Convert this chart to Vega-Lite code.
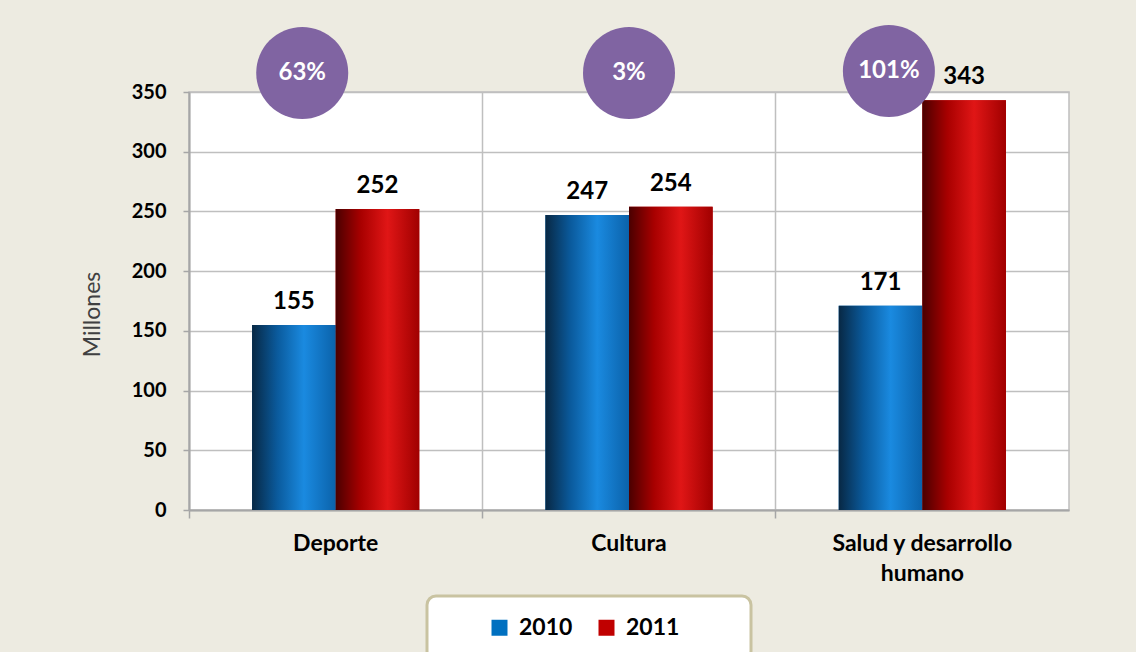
{
  "$schema": "https://vega.github.io/schema/vega-lite/v6.json",
  "autosize": {"type": "none"},
  "padding": {"left": 189, "top": 92, "right": 67, "bottom": 142},
  "width": 880,
  "height": 418,
  "background": "#EDEBE1",
  "config": {
    "font": "Lato",
    "view": {"fill": "white", "stroke": "#bfbfbf", "strokeWidth": 1.5},
    "axisY": {
      "values": [0, 50, 100, 150, 200, 250, 300, 350],
      "grid": true, "gridColor": "#bfbfbf", "gridWidth": 1.5,
      "domainColor": "#a6a6a6", "domainWidth": 2,
      "tickColor": "#a6a6a6", "tickSize": 6, "tickWidth": 1.5,
      "labelFont": "Lato", "labelFontWeight": "bold", "labelFontSize": 20, "labelColor": "black", "labelPadding": 17,
      "titleFont": "Lato", "titleFontSize": 23, "titleFontWeight": "normal", "titleColor": "#404040", "titlePadding": 27, "titleY": 222
    },
    "axisX": {
      "bandPosition": -0.377,
      "grid": true, "gridColor": "#bfbfbf", "gridWidth": 1.5,
      "domainColor": "#a6a6a6", "domainWidth": 2,
      "tickColor": "#a6a6a6", "tickSize": 8, "tickWidth": 1.5,
      "labelFont": "Lato", "labelFontWeight": "bold", "labelFontSize": 23, "labelColor": "black", "labelLimit": 500,
      "labelPadding": 14, "labelAngle": 0, "labelLineHeight": 30, "labelBaseline": "top"
    },
    "legend": {
      "orient": "none", "legendX": 238, "legendY": 504, "direction": "horizontal",
      "fillColor": "white", "strokeColor": "#C9C3A1", "strokeWidth": 3, "cornerRadius": 9,
      "padding": 20, "symbolOffset": 0, "symbolType": "square", "symbolSize": 256, "symbolStrokeWidth": 0,
      "labelFont": "Lato", "labelFontWeight": "bold", "labelFontSize": 23, "labelColor": "black", "labelLimit": 400,
      "labelOffset": 8, "columnPadding": 22,
      "titleOrient": "left", "titleFontSize": 23, "titlePadding": 41
    }
  },
  "datasets": {
    "bars": [
      {"cat": "Deporte", "year": "2010", "v": 155},
      {"cat": "Deporte", "year": "2011", "v": 252},
      {"cat": "Cultura", "year": "2010", "v": 247},
      {"cat": "Cultura", "year": "2011", "v": 254},
      {"cat": "Salud y desarrollo humano", "year": "2010", "v": 171},
      {"cat": "Salud y desarrollo humano", "year": "2011", "v": 343}
    ],
    "pcts": [
      {"cat": "Deporte", "pct": "63%", "pos": "b", "y": 366},
      {"cat": "Cultura", "pct": "3%", "pos": "c", "y": 366},
      {"cat": "Salud y desarrollo humano", "pct": "101%", "pos": "b", "y": 367.5}
    ]
  },
  "resolve": {"scale": {"xOffset": "independent"}},
  "layer": [
    {
      "data": {"name": "bars"},
      "mark": {"type": "bar"},
      "encoding": {
        "x": {"field": "cat", "type": "nominal", "sort": ["Deporte", "Cultura", "Salud y desarrollo humano"], "title": null,
              "scale": {"paddingInner": 0.43, "paddingOuter": 0.215},
              "axis": {"labelExpr": "datum.label == 'Salud y desarrollo humano' ? ['Salud y desarrollo', 'humano'] : datum.label"}},
        "xOffset": {"field": "year", "type": "nominal", "scale": {"paddingInner": 0, "paddingOuter": 0}},
        "y": {"field": "v", "type": "quantitative", "title": "Millones", "scale": {"domain": [0, 350], "nice": false}},
        "color": {"field": "year", "type": "nominal", "scale": {"domain": ["2010", "2011"], "range": ["#0070C0", "#C00000"]},
                  "legend": {"title": "\u00a0",
                             "labelExpr": "datum.label == '2011' ? '2011\u2800\u2800\u2800' : datum.label"}}
      }
    },
    {
      "data": {"name": "bars"},
      "mark": {"type": "bar"},
      "encoding": {
        "x": {"field": "cat", "type": "nominal", "sort": ["Deporte", "Cultura", "Salud y desarrollo humano"], "title": null},
        "xOffset": {"field": "year", "type": "nominal", "scale": {"paddingInner": 0, "paddingOuter": 0}},
        "y": {"field": "v", "type": "quantitative", "title": "Millones"},
        "fill": {
          "condition": {
            "test": "datum.year == '2010'",
            "value": {"gradient": "linear", "x1": 0, "y1": 0, "x2": 1, "y2": 0,
              "stops": [
                {"offset": 0, "color": "#082844"},
                {"offset": 0.3, "color": "#0a5a9c"},
                {"offset": 0.62, "color": "#1a8ae0"},
                {"offset": 1, "color": "#0b62aa"}
              ]}
          },
          "value": {"gradient": "linear", "x1": 0, "y1": 0, "x2": 1, "y2": 0,
            "stops": [
              {"offset": 0, "color": "#4a0000"},
              {"offset": 0.3, "color": "#a80000"},
              {"offset": 0.62, "color": "#e01616"},
              {"offset": 1, "color": "#a00000"}
            ]}
        }
      }
    },
    {
      "data": {"name": "bars"},
      "mark": {"type": "text", "font": "Lato", "fontWeight": "bold", "fontSize": 24, "color": "black", "baseline": "alphabetic", "dy": -16},
      "encoding": {
        "x": {"field": "cat", "type": "nominal", "sort": ["Deporte", "Cultura", "Salud y desarrollo humano"], "title": null},
        "xOffset": {"field": "year", "type": "nominal", "scale": {"type": "point", "padding": 0.5}},
        "y": {"field": "v", "type": "quantitative", "title": "Millones"},
        "text": {"field": "v", "type": "quantitative"}
      }
    },
    {
      "data": {"name": "pcts"},
      "encoding": {
        "x": {"field": "cat", "type": "nominal", "sort": ["Deporte", "Cultura", "Salud y desarrollo humano"], "title": null},
        "xOffset": {"field": "pos", "type": "nominal", "scale": {"type": "point", "domain": ["a", "b", "c", "d", "e"], "padding": 0.5}},
        "y": {"field": "y", "type": "quantitative", "title": "Millones"}
      },
      "layer": [
        {"mark": {"type": "circle", "size": 8464, "color": "#8064A2", "opacity": 1}},
        {"mark": {"type": "text", "font": "Lato", "fontWeight": "bold", "fontSize": 24, "color": "white", "baseline": "middle"},
         "encoding": {"text": {"field": "pct", "type": "nominal"}}}
      ]
    }
  ]
}
